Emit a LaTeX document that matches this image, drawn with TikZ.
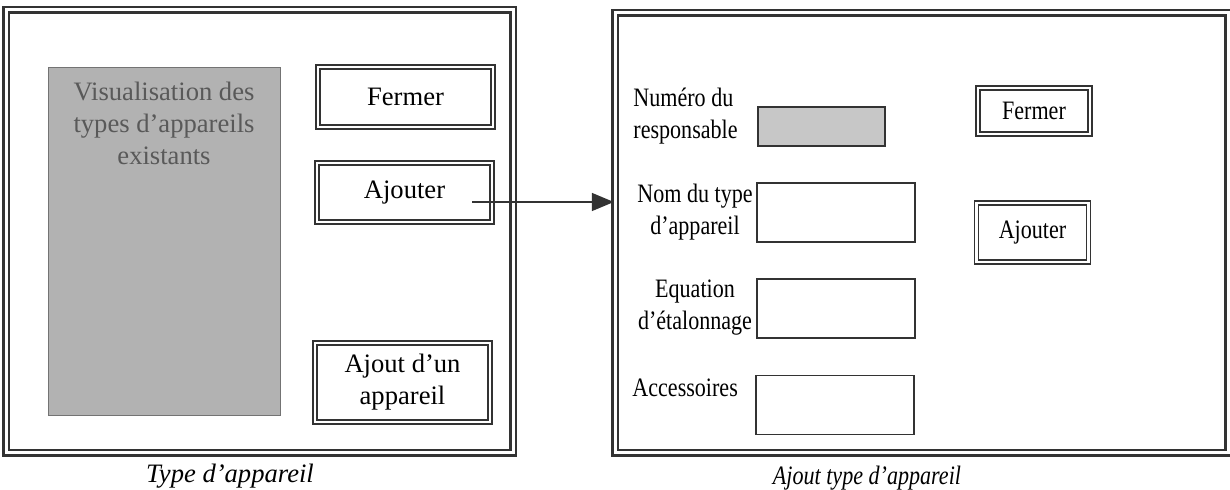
\documentclass[tikz,border=0pt]{standalone}
\usepackage{fontspec}
\setmainfont{Liberation Serif}
\newfontfamily\etroit[FakeStretch=0.83,Ligatures=TeX]{Liberation Serif}
\usetikzlibrary{arrows.meta}

\tikzset{
  window/.style={draw=black!80, double, line width=1.2pt, double distance=1.5pt, inner sep=0pt},
  bouton/.style={draw=black!80, double, line width=0.9pt, double distance=1.1pt, inner sep=0pt, align=center},
  champ/.style={draw=black!80, line width=0.6pt, inner sep=0pt},
  libelle/.style={align=center, inner sep=0pt},
}

\begin{document}
\begin{tikzpicture}[x=0.5pt,y=-0.5pt, font=\fontsize{13.3}{16}\selectfont]
\useasboundingbox (0,0) rectangle (1230,490);

% les deux fenetres
\node[window, minimum width=253.5pt, minimum height=221.5pt] (winA) at (259.5,231.5) {};
\node[window, minimum width=306.5pt, minimum height=220pt] (winB) at (921.5,233) {};

% fenetre Type d'appareil
\node[fill=black!30, draw=black!55, line width=0.4pt, minimum width=116pt, minimum height=174pt] (liste) at (164,241) {};
\node[libelle, text=black!65] (listeTxt) at (164,123) {Visualisation des\\types d'appareils\\existants};

\begin{scope}[every node/.style={bouton, minimum width=87.5pt}]
  \node[minimum height=30pt] (fermerA) at (405.5,97) {Fermer};
  \node[minimum height=29.5pt] (ajoutA) at (404.5,192.5) {Ajouter};
  \node[minimum height=39.5pt] (appareilA) at (402.5,382.5) {Ajout d'un\\appareil};
\end{scope}

% fenetre Ajout type d'appareil
\begin{scope}[every node/.style={libelle}, font=\etroit\fontsize{13.3}{16}\selectfont]
  \node[anchor=west, align=left] (numLbl) at (633,116) {Numéro du\\responsable};
  \node (nomLbl) at (695,212) {Nom du type\\d'appareil};
  \node (eqLbl) at (695,308) {Equation\\d'étalonnage};
  \node[anchor=west] (accLbl) at (632,388) {Accessoires};
\end{scope}

\node[champ, fill=black!22, minimum width=63.5pt, minimum height=19.5pt] (numChamp) at (821.5,126.5) {};
\begin{scope}[every node/.style={champ, minimum width=79pt, minimum height=29.5pt}]
  \node (nomChamp) at (836,212.5) {};
  \node (eqChamp) at (836,308.5) {};
  \node (accChamp) at (835,405) {};
\end{scope}

\begin{scope}[every node/.style={bouton, minimum width=56pt}, font=\etroit\fontsize{13.3}{16}\selectfont]
  \node[minimum height=23pt] (fermerB) at (1034,111) {Fermer};
  \node[minimum height=29.5pt] (ajoutB) at (1032.5,232.5) {Ajouter};
\end{scope}

% lien
\coordinate (depart) at (472,202);
\draw[black!80, line width=0.8pt, -{Triangle[length=11pt,width=9pt]}] (depart) -- (depart -| winB.west);

% titres
\node[font=\itshape\fontsize{13.3}{16}\selectfont] (titreA) at (230,476) {Type d'appareil};
\node[font=\etroit\itshape\fontsize{13.3}{16}\selectfont] (titreB) at (867,478) {Ajout type d'appareil};

\end{tikzpicture}
\end{document}
